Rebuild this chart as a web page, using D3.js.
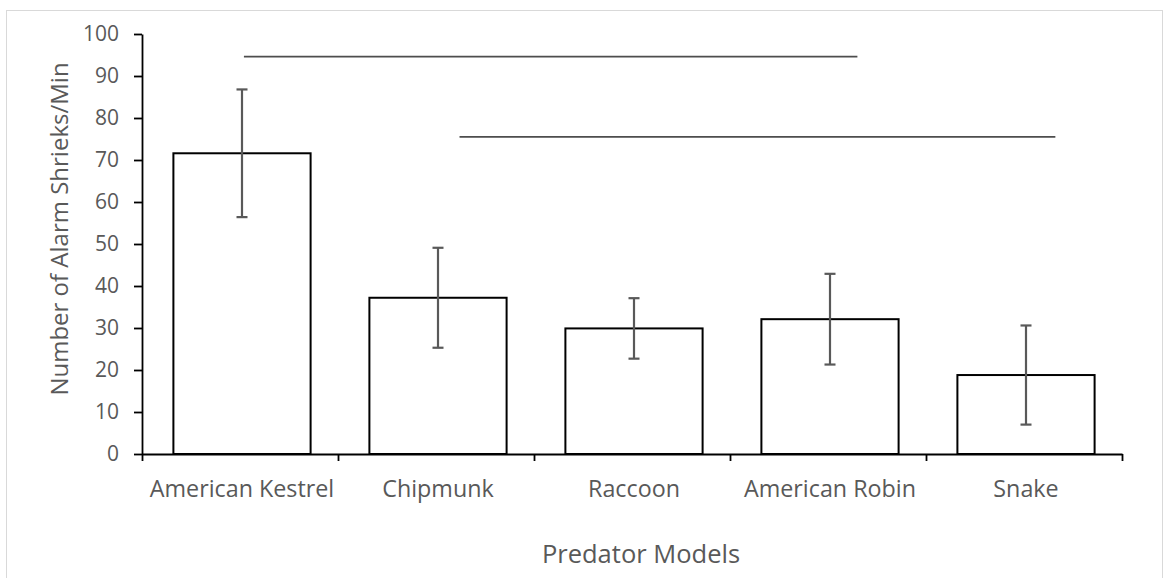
<!DOCTYPE html>
<html>
<head>
<meta charset="utf-8">
<script src="https://cdn.jsdelivr.net/npm/d3@7"></script>
<style>
  html, body { margin: 0; padding: 0; background: #ffffff; }
  svg { display: block; }
  text { font-family: "Open Sans", "Noto Sans", sans-serif; fill: #595959; }
</style>
</head>
<body>
<svg id="chart" width="1168" height="578"></svg>
<script>
// Predator model categories
const categories = ["American Kestrel", "Chipmunk", "Raccoon", "American Robin", "Snake"];
// Mean alarm shrieks per minute for each model
const means = [71.6, 37.2, 29.9, 32.1, 18.8];
// Error bar half-lengths
const errors = [15.2, 11.9, 7.2, 10.8, 11.8];
// Y-axis ticks
const yTicks = [0, 10, 20, 30, 40, 50, 60, 70, 80, 90, 100];
// Grouping bars: start/end in category units along the axis, height in shrieks/min
const groupStart = [0.52, 1.62];
const groupEnd = [3.65, 4.66];
const groupLevel = [94.6, 75.5];

const svg = d3.select("#chart");

// Chart border
svg.append("rect")
  .attr("x", 6.5).attr("y", 10.5)
  .attr("width", 1156).attr("height", 600)
  .attr("fill", "none").attr("stroke", "#d9d9d9").attr("stroke-width", 1);

const plot = { left: 142, right: 1122, top: 34, bottom: 454 };

const x = d3.scaleBand()
  .domain(categories)
  .range([plot.left + 2, plot.right + 2])
  .paddingInner(0.3)
  .paddingOuter(0.15);

const xPos = d3.scaleLinear().domain([0, categories.length]).range([plot.left, plot.right]);

const y = d3.scaleLinear().domain([0, 100]).range([plot.bottom, plot.top]);

// Y axis
const yAxis = d3.axisLeft(y).tickValues(yTicks).tickSize(8).tickPadding(15).tickSizeOuter(0);
const gy = svg.append("g").attr("transform", `translate(${plot.left},0)`).call(yAxis);
gy.select(".domain").attr("stroke", "#000").attr("stroke-width", 1.8);
gy.selectAll(".tick line").attr("stroke", "#000").attr("stroke-width", 1.8);
gy.selectAll(".tick text")
  .style("font-family", "'Open Sans', sans-serif")
  .style("font-size", "21px")
  .attr("fill", "#595959");

// Bars
svg.append("g").selectAll("rect")
  .data(categories)
  .join("rect")
  .attr("x", d => x(d))
  .attr("y", (d, i) => y(means[i]))
  .attr("width", x.bandwidth())
  .attr("height", (d, i) => y(0) - y(means[i]))
  .attr("fill", "#ffffff")
  .attr("stroke", "#000000")
  .attr("stroke-width", 2);

// X axis line and category-boundary ticks
const xAxis = d3.axisBottom(xPos)
  .tickValues(d3.range(categories.length + 1))
  .tickSize(7)
  .tickSizeOuter(0)
  .tickFormat("");
const gx = svg.append("g").attr("transform", `translate(0,${plot.bottom})`).call(xAxis);
gx.select(".domain").attr("stroke", "#000").attr("stroke-width", 1.8);
gx.selectAll(".tick line").attr("stroke", "#000").attr("stroke-width", 1.8);

// Category labels
svg.append("g").selectAll("text")
  .data(categories)
  .join("text")
  .attr("x", d => x(d) + x.bandwidth() / 2)
  .attr("y", 497)
  .attr("text-anchor", "middle")
  .style("font-size", "23.3px")
  .text(d => d);

// Error bars
const cap = 5.5;
const eb = svg.append("g").attr("stroke", "#595959").attr("stroke-width", 2.2).attr("fill", "none");
categories.forEach((c, i) => {
  const cx = x(c) + x.bandwidth() / 2;
  const hi = y(means[i] + errors[i]);
  const lo = y(means[i] - errors[i]);
  eb.append("line").attr("x1", cx).attr("x2", cx).attr("y1", hi).attr("y2", lo);
  eb.append("line").attr("x1", cx - cap).attr("x2", cx + cap).attr("y1", hi).attr("y2", hi);
  eb.append("line").attr("x1", cx - cap).attr("x2", cx + cap).attr("y1", lo).attr("y2", lo);
});

// Grouping lines
svg.append("g").selectAll("line")
  .data(groupLevel)
  .join("line")
  .attr("x1", (d, i) => xPos(groupStart[i]))
  .attr("x2", (d, i) => xPos(groupEnd[i]))
  .attr("y1", d => y(d))
  .attr("y2", d => y(d))
  .attr("stroke", "#4d4d4d")
  .attr("stroke-width", 1.8);

// Axis titles
svg.append("text")
  .attr("transform", `translate(68,229) rotate(-90)`)
  .attr("text-anchor", "middle")
  .style("font-size", "24px")
  .text("Number of Alarm Shrieks/Min");

svg.append("text")
  .attr("x", 641)
  .attr("y", 563)
  .attr("text-anchor", "middle")
  .style("font-size", "25.5px")
  .text("Predator Models");
</script>
</body>
</html>
